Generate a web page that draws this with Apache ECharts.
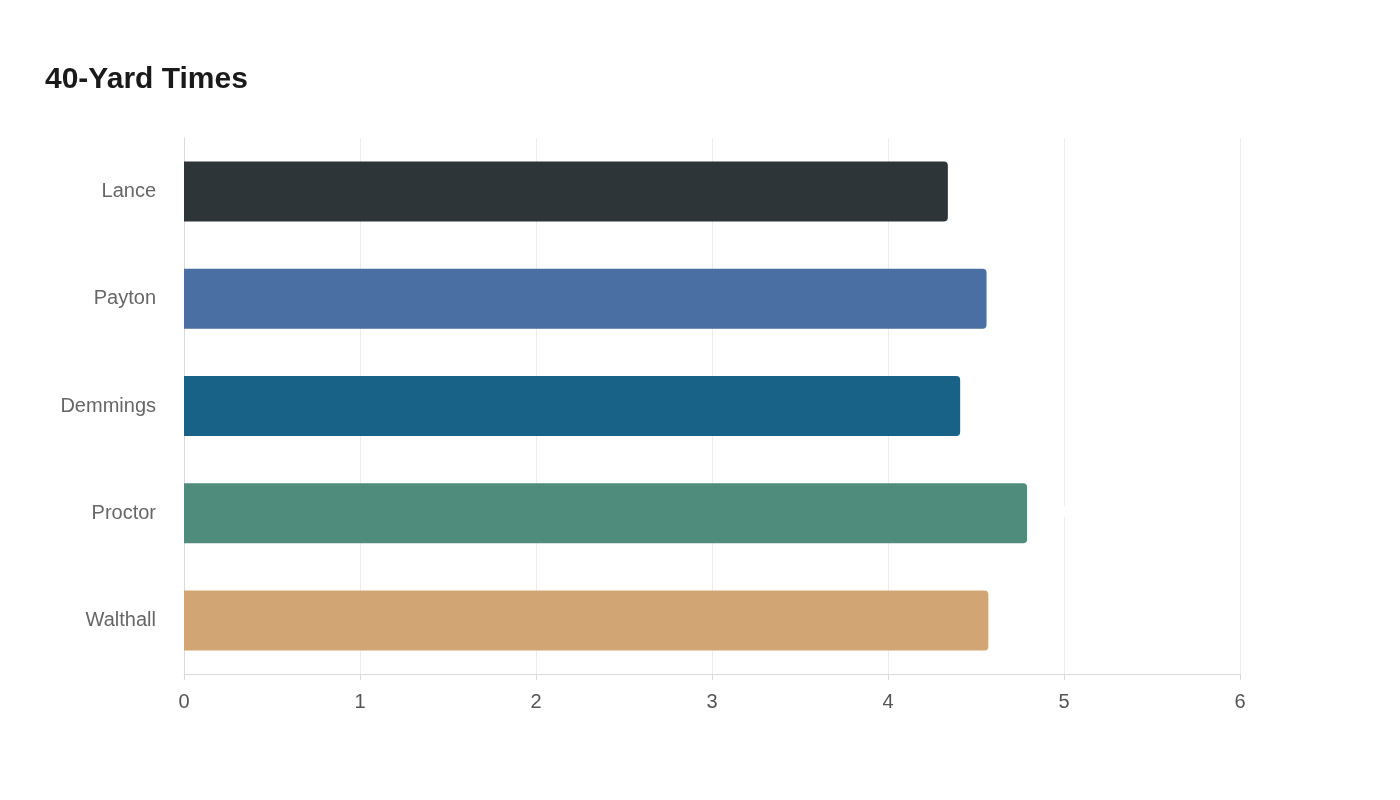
<!DOCTYPE html>
<html>
<head>
<meta charset="utf-8">
<script src="https://cdn.jsdelivr.net/npm/echarts@6/dist/echarts.min.js"></script>
<style>html,body{margin:0;background:#fff}#chart{width:1400px;height:800px}</style>
</head>
<body>
<div id="chart"></div>
<script>
// data
const players = ['Lance', 'Payton', 'Demmings', 'Proctor', 'Walthall'];
const times = [4.34, 4.56, 4.41, 4.79, 4.57];
const colors = ['#2d3538', '#4a6fa3', '#186187', '#4f8c7c', '#d2a574'];
const xTicks = [0, 1, 2, 3, 4, 5, 6];

let chart = echarts.init(document.getElementById('chart'));
chart.setOption({
  animation: false,
  title: {
    text: '40-Yard Times', left: 40, top: 60,
    textStyle: {fontFamily: 'Liberation Sans', fontSize: 30, fontWeight: 'bold', color: '#1a1a1a'}
  },
  grid: {left: 184, right: 160, top: 138, bottom: 126},
  xAxis: {
    type: 'value', min: xTicks[0], max: xTicks[xTicks.length - 1], interval: 1,
    axisLine: {show: true, lineStyle: {color: '#d9d9d9'}},
    axisTick: {show: true, length: 6, lineStyle: {color: '#d9d9d9'}},
    splitLine: {lineStyle: {color: '#ececec'}},
    axisLabel: {fontFamily: 'Liberation Sans', fontSize: 20, color: '#555', margin: 18}
  },
  yAxis: {
    type: 'category', data: players, inverse: true,
    axisLine: {show: true, lineStyle: {color: '#d9d9d9'}},
    axisTick: {show: false},
    axisLabel: {fontFamily: 'Liberation Sans', fontSize: 20, color: '#666', margin: 28}
  },
  series: [{
    type: 'bar', barWidth: 60,
    data: times.map((v, i) => ({value: v, itemStyle: {color: colors[i]}})),
    itemStyle: {borderRadius: [0, 4, 4, 0]},
    label: {show: true, position: 'right', distance: 5, color: '#fff', fontSize: 18, fontWeight: 'bold'}
  }]
});
</script>
</body>
</html>
